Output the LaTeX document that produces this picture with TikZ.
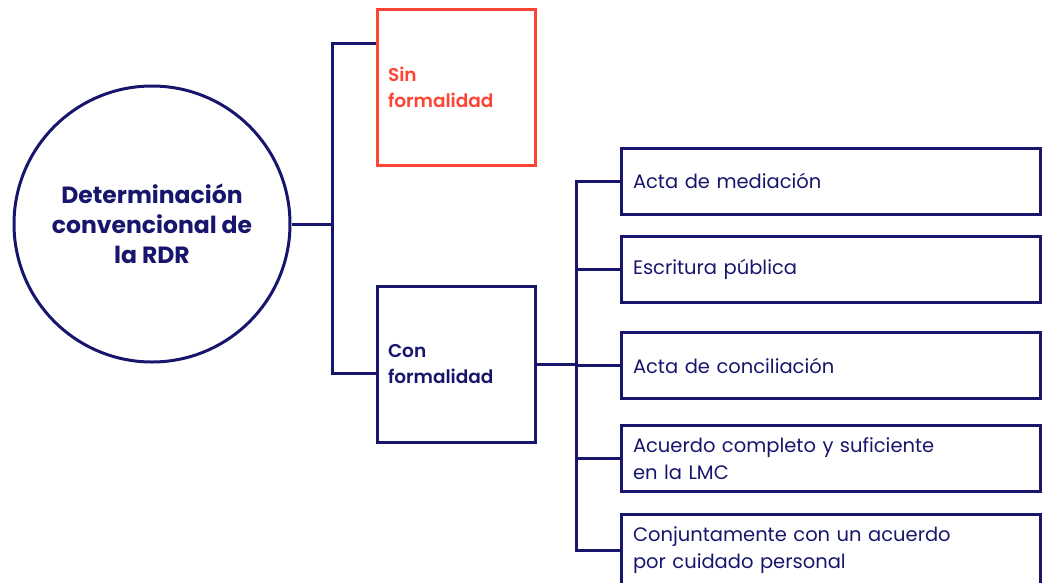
\documentclass[tikz,border=0pt]{standalone}
\usepackage{fontspec}
\setmainfont{Poppins}
\newfontfamily\semifont{Poppins}[UprightFont=* SemiBold]
\usepackage{tikz}
\usetikzlibrary{calc}
\definecolor{navy}{HTML}{17166C}
\definecolor{coral}{HTML}{FF4433}
\tikzset{
  line/.style={navy,line width=3pt},
  hub/.style={circle,draw=navy,line width=3pt,minimum size=276pt,inner sep=0pt,
    align=center,text=navy,font=\fontsize{23.5}{30}\selectfont\bfseries},
  kind/.style={rectangle,draw=navy,line width=3pt,minimum width=158pt,minimum height=156pt,
    inner sep=11pt,text width=136pt,align=left,text=navy,font=\fontsize{18.5}{26}\selectfont\semifont},
  form/.style={rectangle,draw=navy,line width=3pt,minimum width=419pt,minimum height=66pt,
    inner sep=12pt,text width=395pt,align=left,text=navy,font=\fontsize{19.5}{27}\selectfont}
}

\begin{document}
\begin{tikzpicture}[x=1pt,y=-1pt]
  \useasboundingbox (0,0) rectangle (1045,582);

  % left part
  \node[hub] (circ) at (152,224) {Determinación\\convencional de\\la RDR};
  \node[kind,draw=coral,text=coral] (sin) at (456,87) {Sin\\formalidad};
  \node[kind] (con) at (456,364) {Con\\formalidad};

  % right boxes
  \node[form] (b1) at (830.5,181) {Acta de mediación};
  \node[form] (b2) at (830.5,269.5) {Escritura pública};
  \node[form] (b3) at (830.5,365.5) {Acta de conciliación};
  \node[form] (b4) at (830.5,458.5) {Acuerdo completo y suficiente\\en la LMC};
  \node[form] (b5) at (830.5,550) {Conjuntamente con un acuerdo\\por cuidado personal};

  % connectors
  \coordinate (jl) at (332,224);
  \coordinate (jr) at (576,365);
  \coordinate (sinin) at ([yshift=-36pt]sin.north west);
  \coordinate (conin) at ([yshift=-9pt]con.west);
  \draw[line] (circ.east) -- (jl);
  \draw[line] (sinin) -| (jl) |- (conin);

  \draw[line] (con.east) -- (con.east -| jr);
  \draw[line] (b1.west) -| (jr) |- (b5.west);
  \draw[line] (jr |- b2.west) -- (b2.west);
  \draw[line] (jr |- b3.west) -- (b3.west);
  \draw[line] (jr |- b4.west) -- (b4.west);
\end{tikzpicture}
\end{document}
